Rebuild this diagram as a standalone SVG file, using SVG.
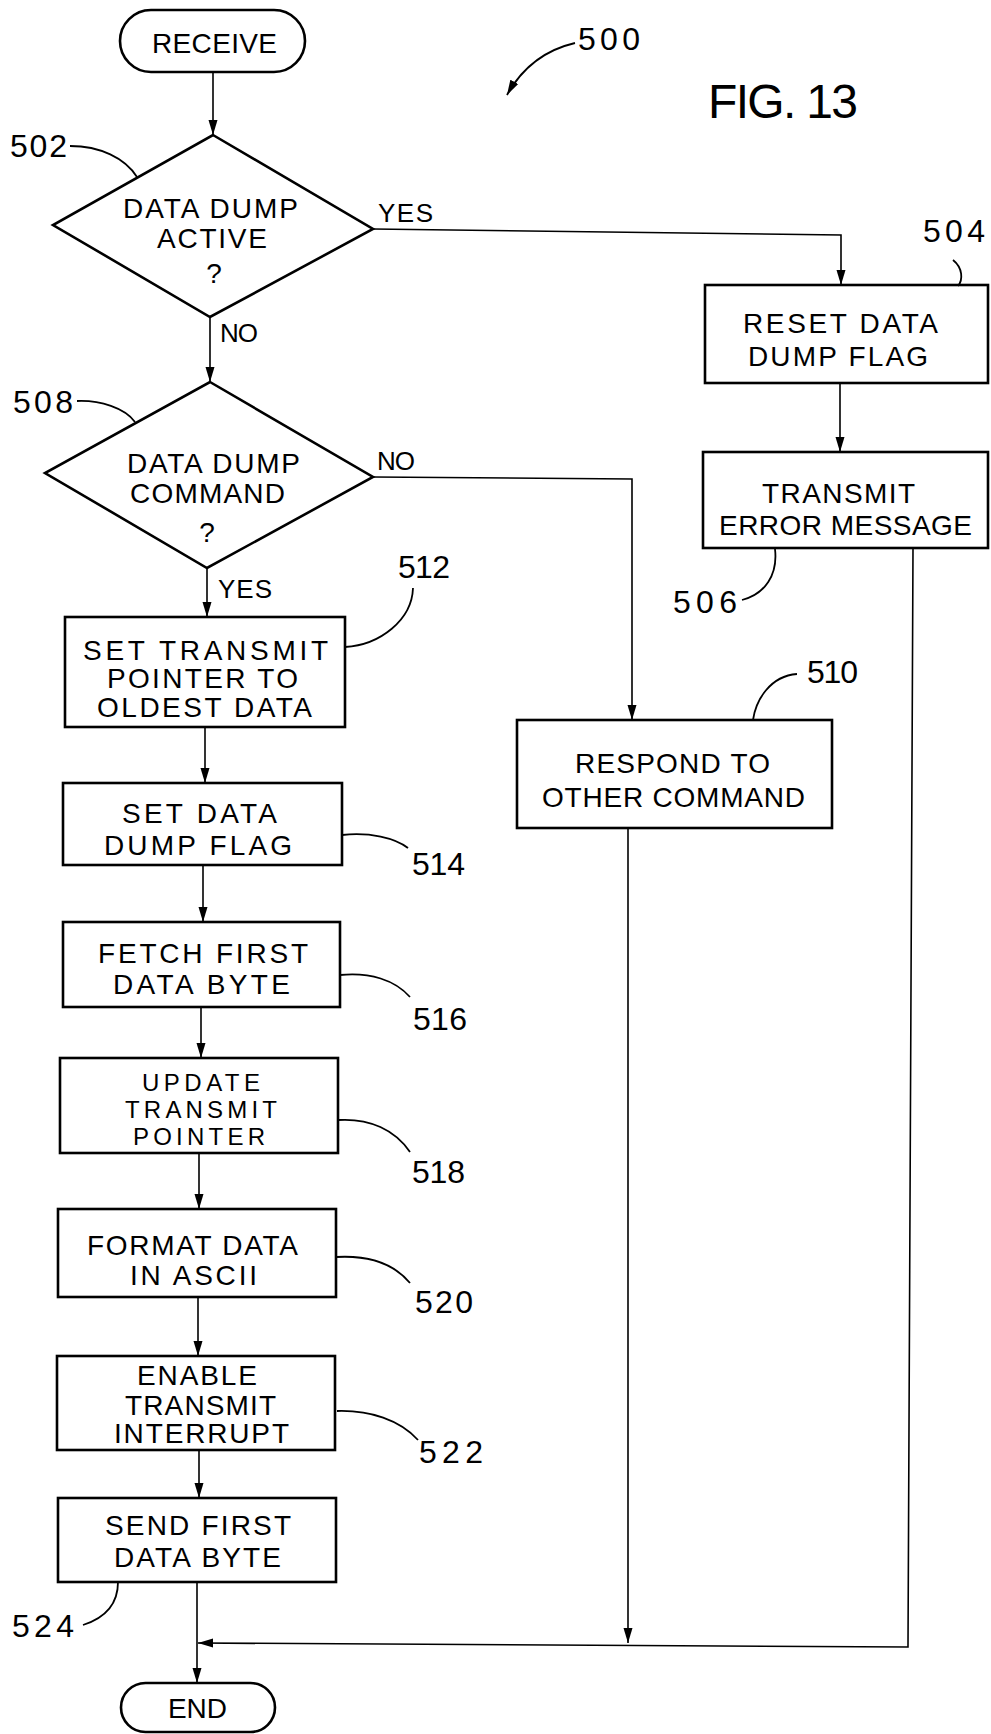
<svg xmlns="http://www.w3.org/2000/svg" width="991" height="1734" viewBox="0 0 991 1734">
<defs>
<marker id="ah" markerUnits="userSpaceOnUse" markerWidth="16" markerHeight="10" refX="15" refY="5" orient="auto">
<path d="M0,0.5 L15,5 L0,9.5 z" fill="#000"/>
</marker>
<style>
.box{fill:#fff;stroke:#000;stroke-width:2.6}
.con{fill:none;stroke:#000;stroke-width:1.6}
.lead{fill:none;stroke:#000;stroke-width:1.8}
.t{font-family:"Liberation Sans","DejaVu Sans",sans-serif;font-size:28px;fill:#000;text-anchor:middle}
.s{font-size:24px}
.n{font-family:"Liberation Sans","DejaVu Sans",sans-serif;font-size:32px;fill:#000}
.l{font-family:"Liberation Sans","DejaVu Sans",sans-serif;font-size:26px;fill:#000}
</style>
</defs>
<rect width="991" height="1734" fill="#fff"/>

<g id="connectors">
<path class="con" d="M213,72 V135" marker-end="url(#ah)"/>
<path class="con" d="M210,317 V382" marker-end="url(#ah)"/>
<path class="con" d="M373,229 L841,235 V285" marker-end="url(#ah)"/>
<path class="con" d="M840,383 V452" marker-end="url(#ah)"/>
<path class="con" d="M373,477 L632,479 V720" marker-end="url(#ah)"/>
<path class="con" d="M207,568 V617" marker-end="url(#ah)"/>
<path class="con" d="M205,727 V783" marker-end="url(#ah)"/>
<path class="con" d="M203,865 V922" marker-end="url(#ah)"/>
<path class="con" d="M201,1007 V1058" marker-end="url(#ah)"/>
<path class="con" d="M199,1153 V1209" marker-end="url(#ah)"/>
<path class="con" d="M198,1297 V1356" marker-end="url(#ah)"/>
<path class="con" d="M199,1450 V1498" marker-end="url(#ah)"/>
<path class="con" d="M197,1582 V1683" marker-end="url(#ah)"/>
<path class="con" d="M628,828 V1643" marker-end="url(#ah)"/>
<path class="con" d="M913,548 L908,1647 L198,1643" marker-end="url(#ah)"/>
</g>

<g id="receive">
<rect class="box" x="120" y="10" width="185" height="62" rx="31"/>
<text class="t" x="214.5" y="53" textLength="125" lengthAdjust="spacing">RECEIVE</text>
</g>

<g id="n502">
<polygon class="box" points="213,135 373,229 210,317 53,225"/>
<text class="t" x="210.5" y="218" textLength="175" lengthAdjust="spacing">DATA DUMP</text>
<text class="t" x="212" y="248" textLength="110" lengthAdjust="spacing">ACTIVE</text>
<text class="t" x="214" y="283">?</text>
</g>

<g id="n508">
<polygon class="box" points="210,382 373,477 207,568 45,473"/>
<text class="t" x="213.5" y="473" textLength="173" lengthAdjust="spacing">DATA DUMP</text>
<text class="t" x="207.5" y="503" textLength="155" lengthAdjust="spacing">COMMAND</text>
<text class="t" x="207" y="542">?</text>
</g>

<g id="n504">
<rect class="box" x="705" y="285" width="283" height="98"/>
<text class="t" x="840.5" y="333" textLength="195" lengthAdjust="spacing">RESET DATA</text>
<text class="t" x="838" y="366" textLength="180" lengthAdjust="spacing">DUMP FLAG</text>
</g>

<g id="n506">
<rect class="box" x="703" y="452" width="285" height="96"/>
<text class="t" x="838.5" y="503" textLength="153" lengthAdjust="spacing">TRANSMIT</text>
<text class="t" x="845.5" y="535" textLength="253" lengthAdjust="spacing">ERROR MESSAGE</text>
</g>

<g id="n510">
<rect class="box" x="517" y="720" width="315" height="108"/>
<text class="t" x="672.5" y="773" textLength="195" lengthAdjust="spacing">RESPOND TO</text>
<text class="t" x="673.5" y="807" textLength="263" lengthAdjust="spacing">OTHER COMMAND</text>
</g>

<g id="n512">
<rect class="box" x="65" y="617" width="280" height="110"/>
<text class="t" x="205.5" y="660" textLength="245" lengthAdjust="spacing">SET TRANSMIT</text>
<text class="t" x="202.5" y="688" textLength="191" lengthAdjust="spacing">POINTER TO</text>
<text class="t" x="204.5" y="717" textLength="215" lengthAdjust="spacing">OLDEST DATA</text>
</g>

<g id="n514">
<rect class="box" x="63" y="783" width="279" height="82"/>
<text class="t" x="199.5" y="823" textLength="155" lengthAdjust="spacing">SET DATA</text>
<text class="t" x="198" y="855" textLength="188" lengthAdjust="spacing">DUMP FLAG</text>
</g>

<g id="n516">
<rect class="box" x="63" y="922" width="277" height="85"/>
<text class="t" x="203" y="963" textLength="210" lengthAdjust="spacing">FETCH FIRST</text>
<text class="t" x="201.5" y="994" textLength="177" lengthAdjust="spacing">DATA BYTE</text>
</g>

<g id="n518">
<rect class="box" x="60" y="1058" width="278" height="95"/>
<text class="t s" x="201" y="1091" textLength="118" lengthAdjust="spacing">UPDATE</text>
<text class="t s" x="201" y="1118" textLength="152" lengthAdjust="spacing">TRANSMIT</text>
<text class="t s" x="199" y="1145" textLength="132" lengthAdjust="spacing">POINTER</text>
</g>

<g id="n520">
<rect class="box" x="58" y="1209" width="278" height="88"/>
<text class="t" x="192.5" y="1255" textLength="211" lengthAdjust="spacing">FORMAT DATA</text>
<text class="t" x="193.5" y="1285" textLength="127" lengthAdjust="spacing">IN ASCII</text>
</g>

<g id="n522">
<rect class="box" x="57" y="1356" width="278" height="94"/>
<text class="t" x="197" y="1385" textLength="120" lengthAdjust="spacing">ENABLE</text>
<text class="t" x="200.5" y="1415" textLength="151" lengthAdjust="spacing">TRANSMIT</text>
<text class="t" x="201.5" y="1443" textLength="175" lengthAdjust="spacing">INTERRUPT</text>
</g>

<g id="n524">
<rect class="box" x="58" y="1498" width="278" height="84"/>
<text class="t" x="198" y="1535" textLength="186" lengthAdjust="spacing">SEND FIRST</text>
<text class="t" x="197.5" y="1567" textLength="167" lengthAdjust="spacing">DATA BYTE</text>
</g>

<g id="end">
<rect class="box" x="121" y="1683" width="154" height="49" rx="24.5"/>
<text class="t" x="197.5" y="1718" textLength="59" lengthAdjust="spacing">END</text>
</g>

<g id="branch-labels">
<text class="l" x="378" y="222" textLength="55" lengthAdjust="spacing">YES</text>
<text class="l" x="220" y="342" textLength="38" lengthAdjust="spacing">NO</text>
<text class="l" x="377" y="470" textLength="38" lengthAdjust="spacing">NO</text>
<text class="l" x="218" y="598" textLength="54" lengthAdjust="spacing">YES</text>
</g>

<g id="reference-numerals">
<text class="n" x="10" y="157" textLength="57" lengthAdjust="spacing">502</text>
<path class="lead" d="M70,146 C100,146 125,158 137,177"/>
<text class="n" x="13" y="413" textLength="60" lengthAdjust="spacing">508</text>
<path class="lead" d="M77,401 C100,400 125,408 135,422"/>
<text class="n" x="578" y="50" textLength="62" lengthAdjust="spacing">500</text>
<path class="lead" d="M575,43 C545,50 522,68 507,95" marker-end="url(#ah)"/>
<text class="n" x="708" y="118" style="font-size:48px" textLength="150" lengthAdjust="spacing">FIG. 13</text>
<text class="n" x="923" y="242" textLength="62" lengthAdjust="spacing">504</text>
<path class="lead" d="M953,260 C963,268 963,280 958,286"/>
<text class="n" x="673" y="613" textLength="64" lengthAdjust="spacing">506</text>
<path class="lead" d="M742,600 C765,594 778,575 775,549"/>
<text class="n" x="807" y="683" textLength="51" lengthAdjust="spacing">510</text>
<path class="lead" d="M797,674 C770,676 756,700 753,720"/>
<text class="n" x="398" y="578" textLength="52" lengthAdjust="spacing">512</text>
<path class="lead" d="M413,588 C412,620 380,645 345,647"/>
<text class="n" x="412" y="875" textLength="53" lengthAdjust="spacing">514</text>
<path class="lead" d="M342,835 C370,832 395,838 408,848"/>
<text class="n" x="413" y="1030" textLength="54" lengthAdjust="spacing">516</text>
<path class="lead" d="M340,975 C370,972 395,980 410,997"/>
<text class="n" x="412" y="1183" textLength="53" lengthAdjust="spacing">518</text>
<path class="lead" d="M338,1120 C370,1118 395,1130 410,1152"/>
<text class="n" x="415" y="1313" textLength="58" lengthAdjust="spacing">520</text>
<path class="lead" d="M336,1257 C370,1255 395,1265 410,1283"/>
<text class="n" x="419" y="1463" textLength="64" lengthAdjust="spacing">522</text>
<path class="lead" d="M337,1411 C370,1410 400,1420 418,1440"/>
<text class="n" x="12" y="1637" textLength="62" lengthAdjust="spacing">524</text>
<path class="lead" d="M83,1625 C105,1618 118,1605 118,1582"/>
</g>
</svg>
